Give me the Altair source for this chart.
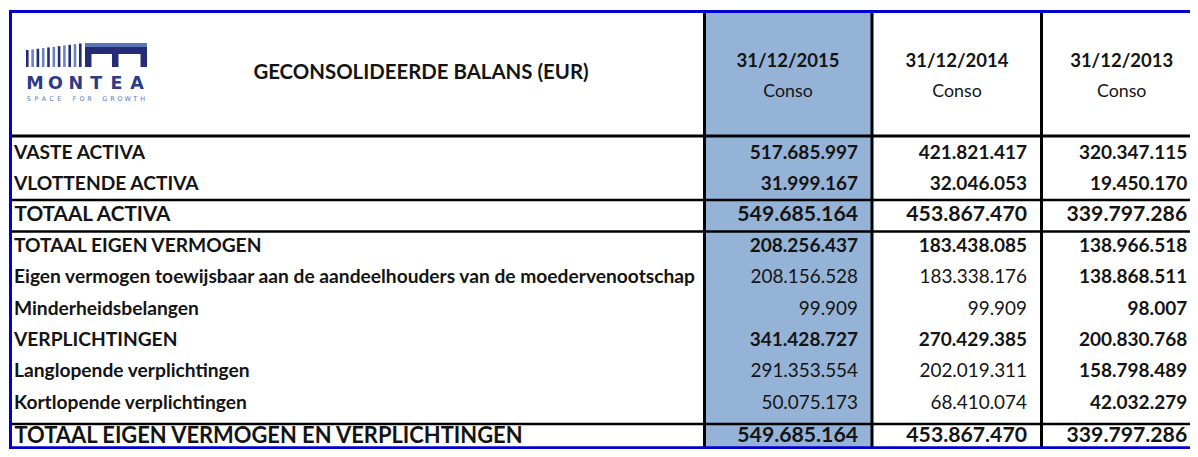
import altair as alt
import pandas as pd

# ---------------- data ----------------
labels = [
    "VASTE ACTIVA",
    "VLOTTENDE ACTIVA",
    "TOTAAL ACTIVA",
    "TOTAAL EIGEN VERMOGEN",
    "Eigen vermogen toewijsbaar aan de aandeelhouders van de moedervenootschap",
    "Minderheidsbelangen",
    "VERPLICHTINGEN",
    "Langlopende verplichtingen",
    "Kortlopende verplichtingen",
    "TOTAAL EIGEN VERMOGEN EN VERPLICHTINGEN",
]
col_dates = ["31/12/2015", "31/12/2014", "31/12/2013"]
col_sub = ["Conso", "Conso", "Conso"]
v2015 = ["517.685.997", "31.999.167", "549.685.164", "208.256.437", "208.156.528",
         "99.909", "341.428.727", "291.353.554", "50.075.173", "549.685.164"]
v2014 = ["421.821.417", "32.046.053", "453.867.470", "183.438.085", "183.338.176",
         "99.909", "270.429.385", "202.019.311", "68.410.074", "453.867.470"]
v2013 = ["320.347.115", "19.450.170", "339.797.286", "138.966.518", "138.868.511",
         "98.007", "200.830.768", "158.798.489", "42.032.279", "339.797.286"]
bold2015 = [1, 1, 1, 1, 0, 0, 1, 0, 0, 1]
bold2014 = [1, 1, 1, 1, 0, 0, 1, 0, 0, 1]
bold2013 = [1, 1, 1, 1, 1, 1, 1, 1, 1, 1]
big_rows = [0, 0, 1, 0, 0, 0, 0, 0, 0, 1]
title = "GECONSOLIDEERDE BALANS (EUR)"
logo_word = "MONTEA"
logo_tag = "SPACE FOR GROWTH"

# ---------------- layout ----------------
FONT = "Lato"
INK = "#141414"
row_y = [153, 184, 215, 246, 277, 309, 340, 371, 403, 440]
col_right = [857, 1026, 1194]
col_center = [787, 956, 1125]
lab_sizes = [19.2, 19.2, 20.7, 19.2, 19.2, 19.2, 19.2, 19.2, 19.2, 21.9]
lab_x = [13, 13, 13.5, 13, 13, 13, 13, 13, 13, 13.5]
val_fs_bold, val_fs_norm, val_fs_big = 19.0, 18.9, 21.2

W, H = 1182, 441
# page-pixel coordinates; the far right strip and the last row are squeezed slightly
xs = alt.Scale(domain=[8, 1040.5, 1198], range=[0, 1032.5, W], nice=False, zero=False)
ys = alt.Scale(domain=[8, 424, 456.5], range=[0, 416, H], nice=False, zero=False)
X = lambda f: alt.X(f, type="quantitative", scale=xs, axis=None)
Y = lambda f: alt.Y(f, type="quantitative", scale=ys, axis=None)

# highlight column
hl = pd.DataFrame({"x": [704], "x2": [871], "y": [12], "y2": [455]})
hl_layer = alt.Chart(hl).mark_rect(color="#95B3D7").encode(
    x=X("x"), x2="x2", y=Y("y"), y2="y2")

# black grid lines
hlines = pd.DataFrame({"y": [136, 200, 231.5, 424], "w": [3, 2.5, 2.5, 2.5]})
hl_rules = alt.Chart(hlines).mark_rule(color="#000").encode(
    x=alt.value(1), x2=alt.value(W), y=Y("y"), size=alt.Size("w:Q", scale=None))
vlines = pd.DataFrame({"x": [703.5, 871, 1040.5], "y": [12, 12, 12], "y2": [455, 455, 455]})
vl_rules = alt.Chart(vlines).mark_rule(color="#000", strokeWidth=3).encode(
    x=X("x"), y=Y("y"), y2="y2")

# blue frame
frame_h = pd.DataFrame({"y": [11.5, 455]})
frame_h_l = alt.Chart(frame_h).mark_rule(color="#0000D0", strokeWidth=3).encode(
    x=alt.value(0.5), x2=alt.value(W), y=Y("y"))
frame_v = pd.DataFrame({"x": [9.5], "y": [10], "y2": [456.5]})
frame_v_l = alt.Chart(frame_v).mark_rule(color="#0000D0", strokeWidth=3).encode(
    x=X("x"), y=Y("y"), y2="y2")

# row labels
lab = pd.DataFrame({"t": labels, "y": row_y, "fs": lab_sizes, "x": lab_x})
lab_layer = alt.Chart(lab).mark_text(align="left", baseline="middle", font=FONT,
                                     fontWeight="bold", color=INK).encode(
    x=X("x"), y=Y("y"), text="t:N", size=alt.Size("fs:Q", scale=None))

# values
rows = []
for ci, (vals, bolds) in enumerate([(v2015, bold2015), (v2014, bold2014), (v2013, bold2013)]):
    for ri, (v, b) in enumerate(zip(vals, bolds)):
        fs = val_fs_big if big_rows[ri] else (val_fs_bold if b else val_fs_norm)
        rows.append({"t": v, "x": col_right[ci], "y": row_y[ri], "b": b, "fs": fs})
vals_df = pd.DataFrame(rows)
val_bold = alt.Chart(vals_df[vals_df.b == 1]).mark_text(
    align="right", baseline="middle", font=FONT, fontWeight="bold", color=INK).encode(
    x=X("x"), y=Y("y"), text="t:N", size=alt.Size("fs:Q", scale=None))
val_norm = alt.Chart(vals_df[vals_df.b == 0]).mark_text(
    align="right", baseline="middle", font=FONT, fontWeight="normal", color=INK).encode(
    x=X("x"), y=Y("y"), text="t:N", size=alt.Size("fs:Q", scale=None))

# header
hd = pd.DataFrame({"t": col_dates, "x": col_center, "y": [61] * 3})
hd_layer = alt.Chart(hd).mark_text(align="center", baseline="middle", font=FONT,
                                   fontWeight="bold", fontSize=18.5, color=INK).encode(
    x=X("x"), y=Y("y"), text="t:N")
sub = pd.DataFrame({"t": col_sub, "x": col_center, "y": [92] * 3})
sub_layer = alt.Chart(sub).mark_text(align="center", baseline="middle", font=FONT,
                                     fontSize=17.8, color=INK).encode(
    x=X("x"), y=Y("y"), text="t:N")
tt = pd.DataFrame({"t": [title], "x": [420], "y": [73]})
tt_layer = alt.Chart(tt).mark_text(align="center", baseline="middle", font=FONT,
                                   fontWeight="bold", fontSize=20.4, color=INK).encode(
    x=X("x"), y=Y("y"), text="t:N")

# logo (decorative)
NAVY, LIGHT = "#262B78", "#6686C6"
logo_rects = []
n_str = 11
for i in range(n_str):
    x0 = 25 + i * 5.3
    top = 50 - i * 0.65
    logo_rects.append({"x": x0, "x2": x0 + 2.6, "y": top, "y2": 67,
                       "c": NAVY if i % 2 == 0 else LIGHT})
logo_rects.append({"x": 84, "x2": 146, "y": 43, "y2": 47, "c": "#5B74B8"})
logo_rects.append({"x": 84, "x2": 146, "y": 47, "y2": 54, "c": NAVY})
for lx in [84, 111, 139.5]:
    logo_rects.append({"x": lx, "x2": lx + 6.5, "y": 54, "y2": 67, "c": NAVY})
lr = pd.DataFrame(logo_rects)
logo_layer = alt.Chart(lr).mark_rect().encode(
    x=X("x"), x2="x2", y=Y("y"), y2="y2", color=alt.Color("c:N", scale=None))

word = pd.DataFrame({"t": list(logo_word),
                     "x": [34 + i * 20.4 for i in range(len(logo_word))],
                     "y": [84] * len(logo_word)})
word_layer = alt.Chart(word).mark_text(align="center", baseline="middle",
                                       font="DejaVu Sans", fontSize=17.5,
                                       fontWeight="bold", color="#2B3A8A").encode(
    x=X("x"), y=Y("y"), text="t:N")
tag = pd.DataFrame({"t": list(logo_tag),
                    "x": [27.8 + i * 7.6 for i in range(len(logo_tag))],
                    "y": [98.8] * len(logo_tag)})
tag_layer = alt.Chart(tag).mark_text(align="center", baseline="middle",
                                     font="DejaVu Sans", fontSize=6.5,
                                     color="#5A78BE").encode(
    x=X("x"), y=Y("y"), text="t:N")

chart = alt.layer(
    hl_layer, hl_rules, vl_rules, frame_h_l, frame_v_l,
    lab_layer, val_bold, val_norm, hd_layer, sub_layer, tt_layer,
    logo_layer, word_layer, tag_layer,
).properties(
    width=W, height=H, padding=0,
    autosize=alt.AutoSizeParams(type="fit", contains="padding"),
    background="white",
).configure_view(strokeWidth=0)

chart.save("out.html", embed_options={"renderer": "svg", "actions": False})
